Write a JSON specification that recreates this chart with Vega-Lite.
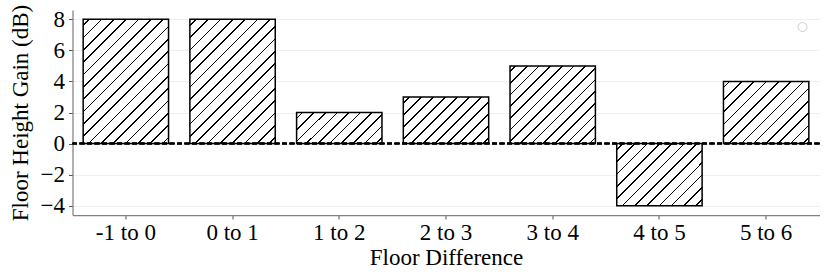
{
  "$schema": "https://vega.github.io/schema/vega-lite/v6.json",
  "width": 747,
  "height": 205,
  "autosize": {"type": "none"},
  "padding": {"left": 72.5, "top": 10, "right": 10, "bottom": 62},
  "background": "white",
  "config": {
    "view": {"stroke": null},
    "font": "Liberation Serif",
    "axis": {
      "labelFont": "Liberation Serif",
      "titleFont": "Liberation Serif",
      "labelFontSize": 23,
      "titleFontSize": 23,
      "labelColor": "black",
      "titleColor": "black",
      "titleFontWeight": "normal",
      "domainColor": "#808080",
      "domainWidth": 1.25,
      "tickColor": "#555555",
      "tickSize": 4,
      "tickWidth": 1,
      "labelOverlap": false
    },
    "axisY": {"tickCount": 7}
  },
  "data": {
    "values": [
      {"diff": "-1 to 0", "gain": 8},
      {"diff": "0 to 1", "gain": 8},
      {"diff": "1 to 2", "gain": 2},
      {"diff": "2 to 3", "gain": 3},
      {"diff": "3 to 4", "gain": 5},
      {"diff": "4 to 5", "gain": -4},
      {"diff": "5 to 6", "gain": 4}
    ]
  },
  "layer": [
    {
      "mark": {"type": "bar", "stroke": "black", "strokeWidth": 1.5},
      "encoding": {
        "x": {
          "field": "diff", "type": "nominal", "sort": null,
          "scale": {"paddingInner": 0.2, "paddingOuter": 0.1},
          "axis": {"title": "Floor Difference", "labelAngle": 0, "labelPadding": 2, "titlePadding": 2, "grid": false}
        },
        "y": {
          "field": "gain", "type": "quantitative",
          "scale": {"domain": [-4.6, 8.6], "nice": false, "zero": false},
          "axis": {
            "title": "Floor Height Gain (dB)",
            "values": [-4, -2, 0, 2, 4, 6, 8],
            "labelExpr": "replace(datum.label, '-', '\u2212')",
            "labelOverlap": false,
            "grid": true, "gridColor": "#efefef", "gridWidth": 1,
            "labelPadding": 4, "titlePadding": 8
          }
        },
        "fill": {
          "condition": [
            {"test": "datum.gain == 8", "value": {"gradient": "linear", "x1": 0, "y1": 0, "x2": 0.788, "y2": 1.146, "stops": [
              {"offset": 0.0256, "color": "white"}, {"offset": 0.0256, "color": "black"}, {"offset": 0.0332, "color": "black"}, {"offset": 0.0332, "color": "white"},
              {"offset": 0.0844, "color": "white"}, {"offset": 0.0844, "color": "black"}, {"offset": 0.0920, "color": "black"}, {"offset": 0.0920, "color": "white"},
              {"offset": 0.1433, "color": "white"}, {"offset": 0.1433, "color": "black"}, {"offset": 0.1509, "color": "black"}, {"offset": 0.1509, "color": "white"},
              {"offset": 0.2021, "color": "white"}, {"offset": 0.2021, "color": "black"}, {"offset": 0.2097, "color": "black"}, {"offset": 0.2097, "color": "white"},
              {"offset": 0.2609, "color": "white"}, {"offset": 0.2609, "color": "black"}, {"offset": 0.2685, "color": "black"}, {"offset": 0.2685, "color": "white"},
              {"offset": 0.3197, "color": "white"}, {"offset": 0.3197, "color": "black"}, {"offset": 0.3273, "color": "black"}, {"offset": 0.3273, "color": "white"},
              {"offset": 0.3786, "color": "white"}, {"offset": 0.3786, "color": "black"}, {"offset": 0.3862, "color": "black"}, {"offset": 0.3862, "color": "white"},
              {"offset": 0.4374, "color": "white"}, {"offset": 0.4374, "color": "black"}, {"offset": 0.4450, "color": "black"}, {"offset": 0.4450, "color": "white"},
              {"offset": 0.4962, "color": "white"}, {"offset": 0.4962, "color": "black"}, {"offset": 0.5038, "color": "black"}, {"offset": 0.5038, "color": "white"},
              {"offset": 0.5550, "color": "white"}, {"offset": 0.5550, "color": "black"}, {"offset": 0.5626, "color": "black"}, {"offset": 0.5626, "color": "white"},
              {"offset": 0.6138, "color": "white"}, {"offset": 0.6138, "color": "black"}, {"offset": 0.6214, "color": "black"}, {"offset": 0.6214, "color": "white"},
              {"offset": 0.6727, "color": "white"}, {"offset": 0.6727, "color": "black"}, {"offset": 0.6803, "color": "black"}, {"offset": 0.6803, "color": "white"},
              {"offset": 0.7315, "color": "white"}, {"offset": 0.7315, "color": "black"}, {"offset": 0.7391, "color": "black"}, {"offset": 0.7391, "color": "white"},
              {"offset": 0.7903, "color": "white"}, {"offset": 0.7903, "color": "black"}, {"offset": 0.7979, "color": "black"}, {"offset": 0.7979, "color": "white"},
              {"offset": 0.8491, "color": "white"}, {"offset": 0.8491, "color": "black"}, {"offset": 0.8567, "color": "black"}, {"offset": 0.8567, "color": "white"},
              {"offset": 0.9080, "color": "white"}, {"offset": 0.9080, "color": "black"}, {"offset": 0.9156, "color": "black"}, {"offset": 0.9156, "color": "white"},
              {"offset": 0.9668, "color": "white"}, {"offset": 0.9668, "color": "black"}, {"offset": 0.9744, "color": "black"}, {"offset": 0.9744, "color": "white"}
            ]}},
            {"test": "datum.gain == 2", "value": {"gradient": "linear", "x1": 0, "y1": 0, "x2": 1.204, "y2": 0.439, "stops": [
              {"offset": 0.0431, "color": "white"}, {"offset": 0.0431, "color": "black"}, {"offset": 0.0569, "color": "black"}, {"offset": 0.0569, "color": "white"},
              {"offset": 0.1431, "color": "white"}, {"offset": 0.1431, "color": "black"}, {"offset": 0.1569, "color": "black"}, {"offset": 0.1569, "color": "white"},
              {"offset": 0.2431, "color": "white"}, {"offset": 0.2431, "color": "black"}, {"offset": 0.2569, "color": "black"}, {"offset": 0.2569, "color": "white"},
              {"offset": 0.3431, "color": "white"}, {"offset": 0.3431, "color": "black"}, {"offset": 0.3569, "color": "black"}, {"offset": 0.3569, "color": "white"},
              {"offset": 0.4431, "color": "white"}, {"offset": 0.4431, "color": "black"}, {"offset": 0.4569, "color": "black"}, {"offset": 0.4569, "color": "white"},
              {"offset": 0.5431, "color": "white"}, {"offset": 0.5431, "color": "black"}, {"offset": 0.5569, "color": "black"}, {"offset": 0.5569, "color": "white"},
              {"offset": 0.6431, "color": "white"}, {"offset": 0.6431, "color": "black"}, {"offset": 0.6569, "color": "black"}, {"offset": 0.6569, "color": "white"},
              {"offset": 0.7431, "color": "white"}, {"offset": 0.7431, "color": "black"}, {"offset": 0.7569, "color": "black"}, {"offset": 0.7569, "color": "white"},
              {"offset": 0.8431, "color": "white"}, {"offset": 0.8431, "color": "black"}, {"offset": 0.8569, "color": "black"}, {"offset": 0.8569, "color": "white"},
              {"offset": 0.9431, "color": "white"}, {"offset": 0.9431, "color": "black"}, {"offset": 0.9569, "color": "black"}, {"offset": 0.9569, "color": "white"}
            ]}},
            {"test": "datum.gain == 3", "value": {"gradient": "linear", "x1": 0, "y1": 0, "x2": 1.191, "y2": 0.650, "stops": [
              {"offset": 0.0394, "color": "white"}, {"offset": 0.0394, "color": "black"}, {"offset": 0.0516, "color": "black"}, {"offset": 0.0516, "color": "white"},
              {"offset": 0.1303, "color": "white"}, {"offset": 0.1303, "color": "black"}, {"offset": 0.1425, "color": "black"}, {"offset": 0.1425, "color": "white"},
              {"offset": 0.2212, "color": "white"}, {"offset": 0.2212, "color": "black"}, {"offset": 0.2334, "color": "black"}, {"offset": 0.2334, "color": "white"},
              {"offset": 0.3121, "color": "white"}, {"offset": 0.3121, "color": "black"}, {"offset": 0.3243, "color": "black"}, {"offset": 0.3243, "color": "white"},
              {"offset": 0.4030, "color": "white"}, {"offset": 0.4030, "color": "black"}, {"offset": 0.4152, "color": "black"}, {"offset": 0.4152, "color": "white"},
              {"offset": 0.4939, "color": "white"}, {"offset": 0.4939, "color": "black"}, {"offset": 0.5061, "color": "black"}, {"offset": 0.5061, "color": "white"},
              {"offset": 0.5848, "color": "white"}, {"offset": 0.5848, "color": "black"}, {"offset": 0.5970, "color": "black"}, {"offset": 0.5970, "color": "white"},
              {"offset": 0.6757, "color": "white"}, {"offset": 0.6757, "color": "black"}, {"offset": 0.6879, "color": "black"}, {"offset": 0.6879, "color": "white"},
              {"offset": 0.7666, "color": "white"}, {"offset": 0.7666, "color": "black"}, {"offset": 0.7788, "color": "black"}, {"offset": 0.7788, "color": "white"},
              {"offset": 0.8575, "color": "white"}, {"offset": 0.8575, "color": "black"}, {"offset": 0.8697, "color": "black"}, {"offset": 0.8697, "color": "white"},
              {"offset": 0.9484, "color": "white"}, {"offset": 0.9484, "color": "black"}, {"offset": 0.9606, "color": "black"}, {"offset": 0.9606, "color": "white"}
            ]}},
            {"test": "datum.gain == 5", "value": {"gradient": "linear", "x1": 0, "y1": 0, "x2": 1.045, "y2": 0.951, "stops": [
              {"offset": 0.0308, "color": "white"}, {"offset": 0.0308, "color": "black"}, {"offset": 0.0406, "color": "black"}, {"offset": 0.0406, "color": "white"},
              {"offset": 0.1022, "color": "white"}, {"offset": 0.1022, "color": "black"}, {"offset": 0.1120, "color": "black"}, {"offset": 0.1120, "color": "white"},
              {"offset": 0.1737, "color": "white"}, {"offset": 0.1737, "color": "black"}, {"offset": 0.1835, "color": "black"}, {"offset": 0.1835, "color": "white"},
              {"offset": 0.2451, "color": "white"}, {"offset": 0.2451, "color": "black"}, {"offset": 0.2549, "color": "black"}, {"offset": 0.2549, "color": "white"},
              {"offset": 0.3165, "color": "white"}, {"offset": 0.3165, "color": "black"}, {"offset": 0.3263, "color": "black"}, {"offset": 0.3263, "color": "white"},
              {"offset": 0.3880, "color": "white"}, {"offset": 0.3880, "color": "black"}, {"offset": 0.3978, "color": "black"}, {"offset": 0.3978, "color": "white"},
              {"offset": 0.4594, "color": "white"}, {"offset": 0.4594, "color": "black"}, {"offset": 0.4692, "color": "black"}, {"offset": 0.4692, "color": "white"},
              {"offset": 0.5308, "color": "white"}, {"offset": 0.5308, "color": "black"}, {"offset": 0.5406, "color": "black"}, {"offset": 0.5406, "color": "white"},
              {"offset": 0.6022, "color": "white"}, {"offset": 0.6022, "color": "black"}, {"offset": 0.6120, "color": "black"}, {"offset": 0.6120, "color": "white"},
              {"offset": 0.6737, "color": "white"}, {"offset": 0.6737, "color": "black"}, {"offset": 0.6835, "color": "black"}, {"offset": 0.6835, "color": "white"},
              {"offset": 0.7451, "color": "white"}, {"offset": 0.7451, "color": "black"}, {"offset": 0.7549, "color": "black"}, {"offset": 0.7549, "color": "white"},
              {"offset": 0.8165, "color": "white"}, {"offset": 0.8165, "color": "black"}, {"offset": 0.8263, "color": "black"}, {"offset": 0.8263, "color": "white"},
              {"offset": 0.8880, "color": "white"}, {"offset": 0.8880, "color": "black"}, {"offset": 0.8978, "color": "black"}, {"offset": 0.8978, "color": "white"},
              {"offset": 0.9594, "color": "white"}, {"offset": 0.9594, "color": "black"}, {"offset": 0.9692, "color": "black"}, {"offset": 0.9692, "color": "white"}
            ]}}
          ],
          "value": {"gradient": "linear", "x1": 0, "y1": 0, "x2": 1.130, "y2": 0.822, "stops": [
            {"offset": 0.0363, "color": "white"}, {"offset": 0.0363, "color": "black"}, {"offset": 0.0471, "color": "black"}, {"offset": 0.0471, "color": "white"},
            {"offset": 0.1196, "color": "white"}, {"offset": 0.1196, "color": "black"}, {"offset": 0.1304, "color": "black"}, {"offset": 0.1304, "color": "white"},
            {"offset": 0.2029, "color": "white"}, {"offset": 0.2029, "color": "black"}, {"offset": 0.2137, "color": "black"}, {"offset": 0.2137, "color": "white"},
            {"offset": 0.2863, "color": "white"}, {"offset": 0.2863, "color": "black"}, {"offset": 0.2971, "color": "black"}, {"offset": 0.2971, "color": "white"},
            {"offset": 0.3696, "color": "white"}, {"offset": 0.3696, "color": "black"}, {"offset": 0.3804, "color": "black"}, {"offset": 0.3804, "color": "white"},
            {"offset": 0.4529, "color": "white"}, {"offset": 0.4529, "color": "black"}, {"offset": 0.4637, "color": "black"}, {"offset": 0.4637, "color": "white"},
            {"offset": 0.5363, "color": "white"}, {"offset": 0.5363, "color": "black"}, {"offset": 0.5471, "color": "black"}, {"offset": 0.5471, "color": "white"},
            {"offset": 0.6196, "color": "white"}, {"offset": 0.6196, "color": "black"}, {"offset": 0.6304, "color": "black"}, {"offset": 0.6304, "color": "white"},
            {"offset": 0.7029, "color": "white"}, {"offset": 0.7029, "color": "black"}, {"offset": 0.7137, "color": "black"}, {"offset": 0.7137, "color": "white"},
            {"offset": 0.7863, "color": "white"}, {"offset": 0.7863, "color": "black"}, {"offset": 0.7971, "color": "black"}, {"offset": 0.7971, "color": "white"},
            {"offset": 0.8696, "color": "white"}, {"offset": 0.8696, "color": "black"}, {"offset": 0.8804, "color": "black"}, {"offset": 0.8804, "color": "white"},
            {"offset": 0.9529, "color": "white"}, {"offset": 0.9529, "color": "black"}, {"offset": 0.9637, "color": "black"}, {"offset": 0.9637, "color": "white"}
          ]}
        }
      }
    },
    {
      "mark": {"type": "rule", "color": "black", "strokeWidth": 1.5, "strokeDash": [5, 2.5]},
      "encoding": {
        "y": {
          "datum": 0,
          "axis": {
            "title": "Floor Height Gain (dB)",
            "values": [-4, -2, 0, 2, 4, 6, 8],
            "labelExpr": "replace(datum.label, '-', '\u2212')",
            "labelOverlap": false,
            "grid": true, "gridColor": "#efefef", "gridWidth": 1,
            "labelPadding": 4, "titlePadding": 8
          }
        }
      }
    },
    {
      "mark": {"type": "point", "opacity": 0, "filled": false, "color": "#cccccc"},
      "encoding": {
        "x": {
          "field": "diff", "type": "nominal", "sort": null,
          "axis": {"title": "Floor Difference", "labelAngle": 0, "labelPadding": 2, "titlePadding": 2, "grid": false}
        },
        "y": {
          "field": "gain", "type": "quantitative",
          "axis": {
            "title": "Floor Height Gain (dB)",
            "values": [-4, -2, 0, 2, 4, 6, 8],
            "labelExpr": "replace(datum.label, '-', '\u2212')",
            "labelOverlap": false,
            "grid": true, "gridColor": "#efefef", "gridWidth": 1,
            "labelPadding": 4, "titlePadding": 8
          }
        },
        "shape": {
          "datum": " ",
          "scale": {"range": ["circle"]},
          "legend": {
            "title": null,
            "orient": "none",
            "legendX": 725,
            "legendY": 12,
            "padding": 0,
            "symbolSize": 80,
            "labelFontSize": 1,
            "symbolStrokeWidth": 1,
            "symbolStrokeColor": "#cccccc",
            "symbolFillColor": "white",
            "encode": {
              "symbols": {"update": {"opacity": {"value": 1}, "stroke": {"value": "#cccccc"}, "fill": {"value": "white"}, "strokeWidth": {"value": 1}}}
            }
          }
        }
      }
    }
  ]
}
